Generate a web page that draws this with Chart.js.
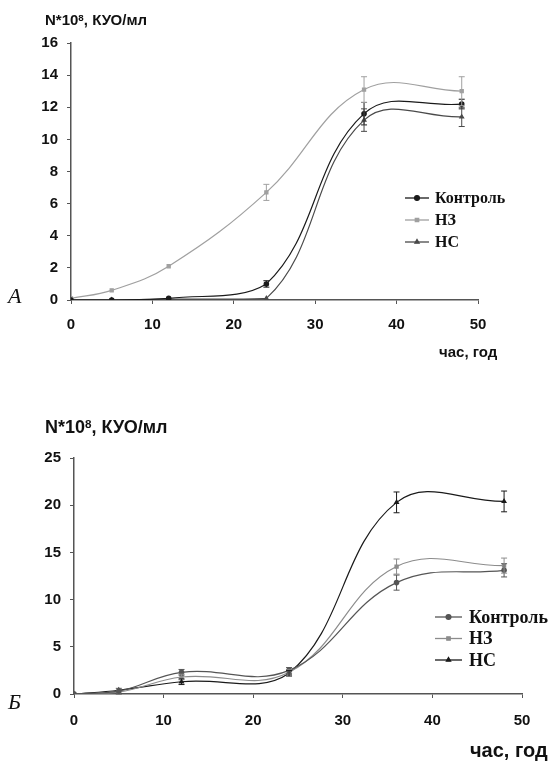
<!DOCTYPE html>
<html>
<head>
<meta charset="utf-8">
<script src="https://cdn.jsdelivr.net/npm/chart.js@4/dist/chart.umd.min.js"></script>
<style>
  html,body{margin:0;padding:0;background:#fff;}
  body{width:557px;height:761px;position:relative;overflow:hidden;}
  canvas{position:absolute;left:0;}
  .t{position:absolute;white-space:nowrap;color:#111;line-height:1.15;}
  .ytitle{font-family:"Liberation Sans",Arial,sans-serif;font-weight:bold;}
  .ytitle sup{font-size:0.65em;vertical-align:0.45em;line-height:0;}
  .xtitle{font-family:"Liberation Sans",Arial,sans-serif;font-weight:bold;}
  .panel{font:italic 22px "Liberation Serif","Times New Roman",serif;}
</style>
</head>
<body>
<canvas id="cA" width="557" height="390" style="top:0"></canvas>
<canvas id="cB" width="557" height="381" style="top:380px"></canvas>

<div class="t ytitle" style="left:45px;top:11px;font-size:15px;">N*10<sup>8</sup>, КУО/мл</div>
<div class="t xtitle" style="left:439px;top:343px;font-size:15px;">час, год</div>
<div class="t panel" style="left:8px;top:283px;">A</div>

<div class="t ytitle" style="left:45px;top:417px;font-size:18px;">N*10<sup>8</sup>, КУО/мл</div>
<div class="t xtitle" style="left:470px;top:739px;font-size:20px;">час, год</div>
<div class="t panel" style="left:8px;top:689px;">Б</div>

<script>
// ---------- data ----------
const hours = [0, 5, 12, 24, 36, 48];
const seriesNames = ['Контроль', 'НЗ', 'НС'];

// Panel A
const controlA = [0, 0, 0.1, 1.0, 11.6, 12.2];
const nzA      = [0.1, 0.6, 2.1, 6.7, 13.1, 13.0];
const ncA      = [0, 0, 0.05, 0.1, 11.2, 11.4];
const controlAErr = [0, 0, 0, 0.2, 0.7, 0.3];
const nzAErr      = [0, 0, 0, 0.5, 0.8, 0.9];
const ncAErr      = [0, 0, 0, 0, 0.7, 0.6];
const yTicksA = {min: 0, max: 16, step: 2};

// Panel Б
const controlB = [0, 0.3, 2.3, 2.5, 11.8, 13.1];
const nzB      = [0, 0.2, 1.8, 2.3, 13.5, 13.6];
const ncB      = [0, 0.4, 1.3, 2.2, 20.3, 20.4];
const controlBErr = [0, 0.3, 0.3, 0.3, 0.8, 0.7];
const nzBErr      = [0, 0, 0.3, 0.3, 0.8, 0.8];
const ncBErr      = [0, 0, 0.3, 0.3, 1.1, 1.1];
const yTicksB = {min: 0, max: 25, step: 5};

const xTicks = {min: 0, max: 50, step: 10};

// ---------- plugins ----------
const errorBars = {
  id: 'errorBars',
  afterDatasetsDraw(chart) {
    const ctx = chart.ctx, xs = chart.scales.x, ys = chart.scales.y;
    chart.data.datasets.forEach(ds => {
      if (!ds.errors) return;
      ctx.save();
      ctx.strokeStyle = ds.borderColor;
      ctx.lineWidth = 1;
      ds.data.forEach((p, i) => {
        const e = ds.errors[i];
        if (!e) return;
        const x = xs.getPixelForValue(p.x);
        const y1 = ys.getPixelForValue(p.y + e);
        const y2 = ys.getPixelForValue(p.y - e);
        ctx.beginPath();
        ctx.moveTo(x, y1); ctx.lineTo(x, y2);
        ctx.moveTo(x - 3, y1); ctx.lineTo(x + 3, y1);
        ctx.moveTo(x - 3, y2); ctx.lineTo(x + 3, y2);
        ctx.stroke();
      });
      ctx.restore();
    });
  }
};

const customLegend = {
  id: 'customLegend',
  afterDraw(chart, args, opts) {
    const ctx = chart.ctx;
    ctx.save();
    chart.data.datasets.forEach((ds, i) => {
      const y = opts.y + i * opts.dy;
      ctx.strokeStyle = ds.borderColor;
      ctx.fillStyle = ds.borderColor;
      ctx.lineWidth = 1.3;
      ctx.beginPath();
      ctx.moveTo(opts.x, y); ctx.lineTo(opts.x + opts.len, y);
      ctx.stroke();
      Chart.helpers.drawPoint(ctx, {pointStyle: ds.pointStyle, radius: 2.4, rotation: 0, borderWidth: 1},
        opts.x + opts.len / 2, y);
      ctx.fillStyle = '#111';
      ctx.font = opts.font;
      ctx.textBaseline = 'middle';
      ctx.textAlign = 'left';
      ctx.fillText(ds.label, opts.x + opts.len + opts.gap, y + 1);
    });
    ctx.restore();
  }
};

function pts(ys) { return hours.map((h, i) => ({x: h, y: ys[i]})); }

function ds(label, ys, errs, color, style) {
  return {
    label, data: pts(ys), errors: errs,
    borderColor: color, backgroundColor: color,
    pointBackgroundColor: color, pointBorderColor: color,
    pointStyle: style, pointRadius: 2.2, borderWidth: 1.2,
    tension: 0.4, fill: false
  };
}

function makeChart(id, datasets, yT, geo) {
  const tickFont = {family: '"Liberation Sans", Arial, sans-serif', weight: 'bold', size: 15};
  return new Chart(document.getElementById(id), {
    type: 'line',
    data: {datasets},
    options: {
      responsive: false, animation: false, devicePixelRatio: 1,
      layout: {padding: {top: geo.top, right: geo.right, left: 0, bottom: 0}},
      plugins: {
        legend: {display: false}, tooltip: {enabled: false},
        customLegend: geo.legend
      },
      scales: {
        x: {
          type: 'linear', min: xTicks.min, max: xTicks.max,
          ticks: {stepSize: xTicks.step, color: '#111', font: tickFont, padding: geo.xPad, maxRotation: 0},
          grid: {drawOnChartArea: false, drawTicks: true, tickLength: 4, color: '#555'},
          border: {display: true, color: '#555', width: 1.5},
          afterFit(s) { s.height = geo.xH; }
        },
        y: {
          type: 'linear', min: yT.min, max: yT.max,
          ticks: {stepSize: yT.step, color: '#111', font: tickFont, padding: 9},
          grid: {drawOnChartArea: false, drawTicks: true, tickLength: 4, color: '#555'},
          border: {display: true, color: '#555', width: 1.5},
          afterFit(s) { s.width = geo.left; }
        }
      }
    },
    plugins: [errorBars, customLegend]
  });
}

makeChart('cA', [
  ds(seriesNames[0], controlA, controlAErr, '#1a1a1a', 'circle'),
  ds(seriesNames[1], nzA, nzAErr, '#a0a0a0', 'rect'),
  ds(seriesNames[2], ncA, ncAErr, '#4a4a4a', 'triangle')
], yTicksA, {top: 43, right: 79, left: 71, xH: 90, xPad: 12,
  legend: {x: 405, y: 198, dy: 22, len: 24, gap: 6, font: 'bold 16px "Liberation Serif", "Times New Roman", serif'}});

makeChart('cB', [
  ds(seriesNames[0], controlB, controlBErr, '#555555', 'circle'),
  ds(seriesNames[1], nzB, nzBErr, '#8c8c8c', 'rect'),
  ds(seriesNames[2], ncB, ncBErr, '#1a1a1a', 'triangle')
], yTicksB, {top: 78, right: 35, left: 74, xH: 67, xPad: 14,
  legend: {x: 435, y: 237, dy: 21.5, len: 27, gap: 7, font: 'bold 18px "Liberation Serif", "Times New Roman", serif'}});
</script>
</body>
</html>
